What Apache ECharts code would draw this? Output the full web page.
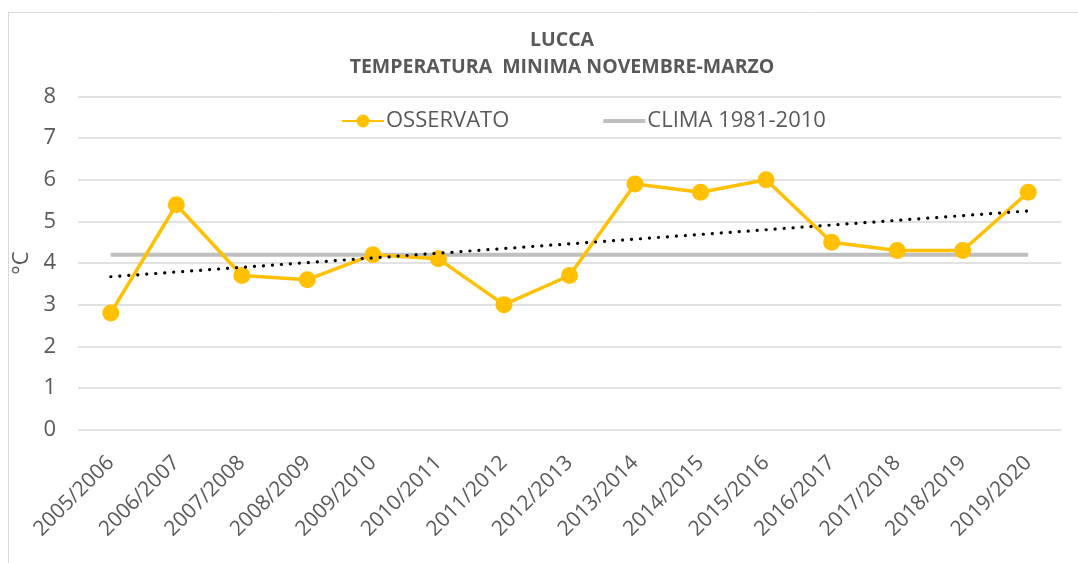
<!DOCTYPE html>
<html>
<head>
<meta charset="utf-8">
<script src="https://cdn.jsdelivr.net/npm/echarts@6/dist/echarts.min.js"></script>
<style>
    html, body { margin: 0; padding: 0; background: #fff; }
    #chart { width: 1078px; height: 563px; }
</style>
</head>
<body>
<div id="chart"></div>
<script>
// stagioni novembre-marzo
const seasons = ["2005/2006", "2006/2007", "2007/2008", "2008/2009", "2009/2010", "2010/2011", "2011/2012",
    "2012/2013", "2013/2014", "2014/2015", "2015/2016", "2016/2017", "2017/2018", "2018/2019", "2019/2020"]
const observed = [2.8, 5.4, 3.7, 3.6, 4.2, 4.1, 3.0, 3.7, 5.9, 5.7, 6.0, 4.5, 4.3, 4.3, 5.7]
const clima = [4.2, 4.2, 4.2, 4.2, 4.2, 4.2, 4.2, 4.2, 4.2, 4.2, 4.2, 4.2, 4.2, 4.2, 4.2]
// tendenza lineare, solo gli estremi
const trend = [3.67, null, null, null, null, null, null, null, null, null, null, null, null, null, 5.25]
const yTicks = [0, 1, 2, 3, 4, 5, 6, 7, 8]

const textColor = "#595959"
const font = "'Open Sans', sans-serif"

let chart = echarts.init(document.getElementById("chart"))
let option = {
    backgroundColor: "#fff",
    textStyle: { fontFamily: font },
    title: {
        text: "LUCCA\nTEMPERATURA  MINIMA NOVEMBRE-MARZO",
        left: 557,
        textAlign: "center",
        top: 22,
        textStyle: {
            color: textColor,
            fontSize: 19.5,
            fontWeight: "bold",
            lineHeight: 27,
            fontFamily: font
        }
    },
    legend: {
        top: 105,
        left: 336,
        itemGap: 92,
        itemWidth: 42,
        itemHeight: 16,
        textStyle: { color: textColor, fontSize: 22, fontFamily: font, padding: [0, 0, 0, -3] },
        data: [
            { name: "OSSERVATO" },
            { name: "CLIMA 1981-2010", itemStyle: { opacity: 0 }, lineStyle: { width: 4, color: "#BFBFBF" } }
        ]
    },
    graphic: [
        { type: "line", shape: { x1: 8, y1: 12.5, x2: 1078, y2: 12.5 }, style: { stroke: "#D9D9D9", lineWidth: 1 }, silent: true },
        { type: "line", shape: { x1: 8.5, y1: 12, x2: 8.5, y2: 563 }, style: { stroke: "#D9D9D9", lineWidth: 1 }, silent: true }
    ],
    grid: {
        left: 78,
        right: 17,
        top: 96.5,
        bottom: 133.5
    },
    xAxis: {
        type: "category",
        data: seasons,
        boundaryGap: true,
        axisLine: { show: false },
        axisTick: { show: false },
        axisLabel: {
            rotate: 45,
            color: textColor,
            fontSize: 21,
            margin: 30,
            interval: 0,
            fontFamily: font
        }
    },
    yAxis: {
        type: "value",
        min: yTicks[0],
        max: yTicks[yTicks.length - 1],
        interval: 1,
        name: "°C",
        nameLocation: "middle",
        nameGap: 32,
        nameTextStyle: { color: textColor, fontSize: 22, fontFamily: font },
        axisLine: { show: false },
        axisTick: { show: false },
        axisLabel: { color: textColor, fontSize: 22, margin: 22, fontFamily: font },
        splitLine: { lineStyle: { color: "#D9D9D9", width: 1.5 } }
    },
    series: [
        {
            name: "CLIMA 1981-2010",
            type: "line",
            data: clima,
            symbol: "none",
            z: 2,
            lineStyle: { color: "#BFBFBF", width: 4 },
            itemStyle: { color: "#BFBFBF" }
        },
        {
            name: "OSSERVATO",
            type: "line",
            data: observed,
            symbol: "circle",
            symbolSize: 17,
            z: 3,
            lineStyle: { color: "#FFC000", width: 3.5 },
            itemStyle: { color: "#FFC000" }
        },
        {
            name: "tendenza",
            type: "line",
            data: trend,
            connectNulls: true,
            symbol: "none",
            z: 4,
            lineStyle: { color: "#000", width: 3.2, type: [0.1, 8.9], cap: "round" }
        }
    ]
}

option && chart.setOption(option)
</script>
</body>
</html>
